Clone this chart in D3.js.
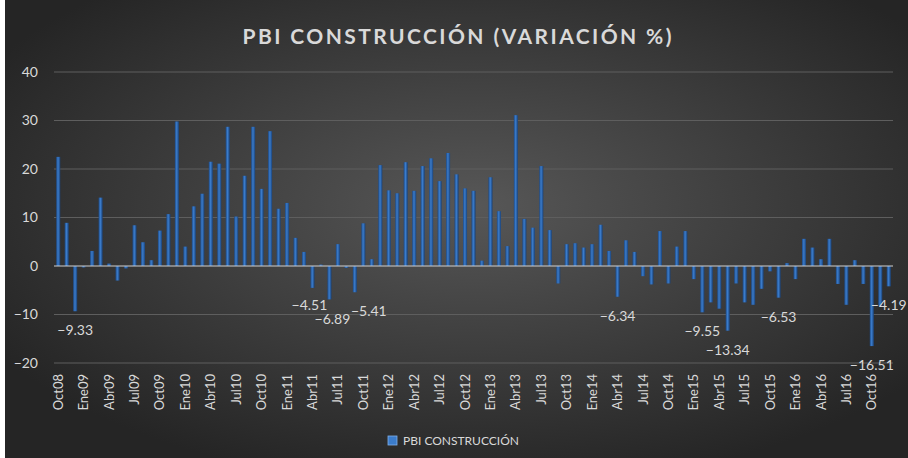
<!DOCTYPE html>
<html>
<head>
<meta charset="utf-8">
<script src="https://cdn.jsdelivr.net/npm/d3@7"></script>
<style>
  html, body { margin: 0; padding: 0; background: #fff; }
  svg { display: block; }
</style>
</head>
<body>
<svg id="chart" width="908" height="458"></svg>
<script>
var categories = [
  "Oct08","Nov08","Dic08",
  "Ene09","Feb09","Mar09","Abr09","May09","Jun09","Jul09","Ago09","Sep09","Oct09","Nov09","Dic09",
  "Ene10","Feb10","Mar10","Abr10","May10","Jun10","Jul10","Ago10","Sep10","Oct10","Nov10","Dic10",
  "Ene11","Feb11","Mar11","Abr11","May11","Jun11","Jul11","Ago11","Sep11","Oct11","Nov11","Dic11",
  "Ene12","Feb12","Mar12","Abr12","May12","Jun12","Jul12","Ago12","Sep12","Oct12","Nov12","Dic12",
  "Ene13","Feb13","Mar13","Abr13","May13","Jun13","Jul13","Ago13","Sep13","Oct13","Nov13","Dic13",
  "Ene14","Feb14","Mar14","Abr14","May14","Jun14","Jul14","Ago14","Sep14","Oct14","Nov14","Dic14",
  "Ene15","Feb15","Mar15","Abr15","May15","Jun15","Jul15","Ago15","Sep15","Oct15","Nov15","Dic15",
  "Ene16","Feb16","Mar16","Abr16","May16","Jun16","Jul16","Ago16","Sep16","Oct16","Nov16","Dic16"
];

var values = [
  22.5, 8.9, -9.33,
  -0.3, 3.1, 14.1, 0.5, -3.0, -0.5, 8.4, 4.9, 1.2, 7.3, 10.7, 29.8,
  4.0, 12.3, 14.9, 21.5, 21.1, 28.7, 10.2, 18.6, 28.7, 15.9, 27.8, 11.8,
  13.0, 5.8, 2.9, -4.51, 0.3, -6.89, 4.5, -0.4, -5.41, 8.8, 1.4, 20.8,
  15.6, 15.0, 21.4, 15.5, 20.6, 22.2, 17.5, 23.3, 18.9, 16.0, 15.5, 1.1,
  18.3, 11.3, 4.1, 31.1, 9.7, 7.9, 20.6, 7.4, -3.6, 4.5, 4.7, 3.8,
  4.5, 8.5, 3.1, -6.34, 5.3, 2.9, -2.1, -3.8, 7.2, -3.6, 4.0, 7.2,
  -2.7, -9.55, -7.5, -8.8, -13.34, -3.6, -7.5, -8.0, -4.7, -1.1, -6.53, 0.6,
  -2.7, 5.6, 3.8, 1.4, 5.6, -3.7, -8.0, 1.2, -3.7, -16.51, -8.2, -4.19
];

// only these months carry a data label in the original
var labelled = ["Dic08","Abr11","Jun11","Sep11","Abr14","Feb15","May15","Nov15","Oct16","Dic16"];

var tickLabels = [
  "Oct08","Ene09","Abr09","Jul09","Oct09","Ene10","Abr10","Jul10","Oct10","Ene11","Abr11",
  "Jul11","Oct11","Ene12","Abr12","Jul12","Oct12","Ene13","Abr13","Jul13","Oct13","Ene14",
  "Abr14","Jul14","Oct14","Ene15","Abr15","Jul15","Oct15","Ene16","Abr16","Jul16","Oct16"
];

var yTicks = [-20, -10, 0, 10, 20, 30, 40];

var title = "PBI CONSTRUCCIÓN (VARIACIÓN %)",
    seriesName = "PBI CONSTRUCCIÓN";

var
  width = 908,
  height = 458,
  margin = {left: 54, right: 15, top: 72, bottom: 95},
  font = "Lato, 'Open Sans', sans-serif",
  textColor = "#d9d9d9";

var svg = d3.select("#chart");
var defs = svg.append("defs");

var bg = defs.append("radialGradient")
  .attr("id", "bg")
  .attr("cx", "52%").attr("cy", "45%").attr("r", "62%");
bg.append("stop").attr("offset", "0%").attr("stop-color", "#575757");
bg.append("stop").attr("offset", "100%").attr("stop-color", "#252525");

var barGrad = defs.append("linearGradient")
  .attr("id", "bar")
  .attr("x1", "0%").attr("x2", "100%").attr("y1", "0%").attr("y2", "0%");
barGrad.append("stop").attr("offset", "0%").attr("stop-color", "#1d4a86");
barGrad.append("stop").attr("offset", "45%").attr("stop-color", "#3b7ccb");
barGrad.append("stop").attr("offset", "100%").attr("stop-color", "#1a4278");

svg.append("rect")
  .attr("x", 5).attr("y", 0)
  .attr("width", width - 5).attr("height", height)
  .attr("fill", "url(#bg)");

var x = d3.scaleBand()
  .domain(categories)
  .range([margin.left, width - margin.right])
  .paddingInner(0.52)
  .paddingOuter(0.26);

var y = d3.scaleLinear()
  .domain([-20, 40])
  .range([height - margin.bottom, margin.top]);

// gridlines
svg.append("g")
  .selectAll("line")
  .data(yTicks.filter(d => d !== 0))
  .join("line")
  .attr("x1", margin.left)
  .attr("x2", width - margin.right)
  .attr("y1", d => y(d))
  .attr("y2", d => y(d))
  .attr("stroke", "#5e5e5e")
  .attr("stroke-width", 1);

// y axis labels
var yAxis = svg.append("g")
  .attr("transform", "translate(" + (margin.left - 16) + ",0)")
  .call(d3.axisLeft(y).tickValues(yTicks).tickSize(0).tickPadding(0));
yAxis.select(".domain").remove();
yAxis.selectAll("text")
  .attr("fill", textColor)
  .style("font-family", font)
  .style("font-size", "14px");

// bars
svg.append("g")
  .selectAll("rect")
  .data(values)
  .join("rect")
  .attr("x", (d, i) => x(categories[i]))
  .attr("width", x.bandwidth())
  .attr("y", d => y(Math.max(0, d)))
  .attr("height", d => Math.abs(y(d) - y(0)))
  .attr("fill", "url(#bar)");

// zero line
svg.append("line")
  .attr("x1", margin.left)
  .attr("x2", width - margin.right)
  .attr("y1", y(0))
  .attr("y2", y(0))
  .attr("stroke", "#d0d0d0")
  .attr("stroke-width", 1.2);

// data labels (a couple nudged like in the original)
var nudge = {Sep11: [14, 0], Abr11: [-3, -2], Jun11: [3, 1]};

svg.append("g")
  .selectAll("text")
  .data(values.map((v, i) => ({cat: categories[i], v: v})).filter(d => labelled.includes(d.cat)))
  .join("text")
  .attr("x", d => x(d.cat) + x.bandwidth() / 2 + (nudge[d.cat] ? nudge[d.cat][0] : 0))
  .attr("y", d => y(d.v) + 19 + (nudge[d.cat] ? nudge[d.cat][1] : 0))
  .attr("dy", "0.35em")
  .attr("text-anchor", "middle")
  .attr("fill", textColor)
  .style("font-family", font)
  .style("font-size", "14px")
  .text(d => d3.format(".2f")(d.v));

// x axis labels, rotated
var xAxis = svg.append("g")
  .attr("transform", "translate(0," + (y(-20) + 11) + ")")
  .call(d3.axisBottom(x).tickValues(tickLabels).tickSize(0).tickPadding(0));
xAxis.select(".domain").remove();
xAxis.selectAll("text")
  .attr("transform", "rotate(-90)")
  .attr("text-anchor", "end")
  .attr("x", 0)
  .attr("y", 0)
  .attr("dy", "0.35em")
  .attr("fill", textColor)
  .style("font-family", font)
  .style("font-size", "13px");

// title
svg.append("text")
  .attr("x", 457)
  .attr("y", 44)
  .attr("text-anchor", "middle")
  .attr("fill", textColor)
  .attr("textLength", 429)
  .attr("lengthAdjust", "spacing")
  .style("font-family", font)
  .style("font-size", "21px")
  .style("font-weight", "bold")
  .text(title);

// legend
var legend = svg.append("g").attr("transform", "translate(388,436)");
legend.append("rect")
  .attr("width", 9).attr("height", 9)
  .attr("fill", "#3b7ccb")
  .attr("stroke", "#7fb0e8")
  .attr("stroke-width", 0.8);
legend.append("text")
  .attr("x", 15)
  .attr("y", 5)
  .attr("dy", "0.35em")
  .attr("fill", textColor)
  .style("font-family", font)
  .style("font-size", "12px")
  .text(seriesName);
</script>
</body>
</html>
